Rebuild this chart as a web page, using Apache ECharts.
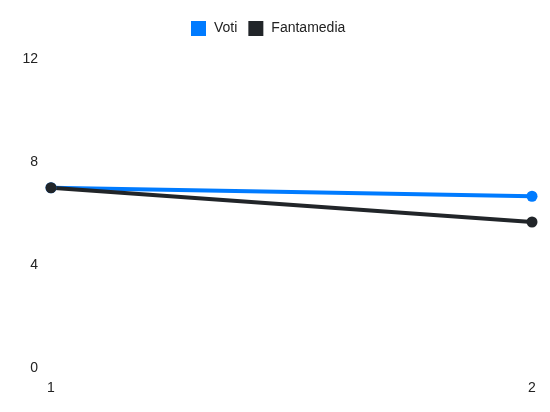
<!doctype html>
<html>
<head>
<meta charset="UTF-8">
<title>Voti / Fantamedia</title>
<script src="https://cdn.jsdelivr.net/npm/echarts@6/dist/echarts.min.js"></script>
<style>
  html, body { margin: 0; padding: 0; background: #fff; }
  #main { width: 550px; height: 412px; }
</style>
</head>
<body>
<div id="main"></div>
<script>
// data
var giornate = ['1', '2'];
var voti = [7, 6.67];
var fantamedia = [7, 5.67];
var yTicks = [0, 4, 8, 12];

var myChart = echarts.init(document.getElementById('main'));
var option = {
    animation: false,
    textStyle: { fontFamily: 'Liberation Sans, Arial, sans-serif' },
    legend: {
        top: 16,
        left: 186,
        icon: 'rect',
        itemWidth: 15,
        itemHeight: 15,
        itemGap: 11,
        textStyle: { fontSize: 14, color: '#222', padding: [0, 0, 0, 3] },
        data: ['Voti', 'Fantamedia']
    },
    grid: { left: 51, right: 18, top: 59, bottom: 44 },
    xAxis: {
        type: 'category',
        boundaryGap: false,
        data: giornate,
        axisLine: { show: false },
        axisTick: { show: false },
        axisLabel: { fontSize: 14, color: '#222', margin: 13 }
    },
    yAxis: {
        type: 'value',
        min: yTicks[0],
        max: yTicks[yTicks.length - 1],
        interval: 4,
        axisLine: { show: false },
        axisTick: { show: false },
        splitLine: { show: false },
        axisLabel: { fontSize: 14, color: '#222', margin: 13 }
    },
    series: [
        {
            name: 'Voti',
            type: 'line',
            data: voti,
            symbol: 'circle',
            symbolSize: 11,
            itemStyle: { color: '#007bff' },
            lineStyle: { width: 4, color: '#007bff' }
        },
        {
            name: 'Fantamedia',
            type: 'line',
            data: fantamedia,
            symbol: 'circle',
            symbolSize: 11,
            itemStyle: { color: '#212529' },
            lineStyle: { width: 4, color: '#212529' }
        }
    ]
};
myChart.setOption(option);
</script>
</body>
</html>
